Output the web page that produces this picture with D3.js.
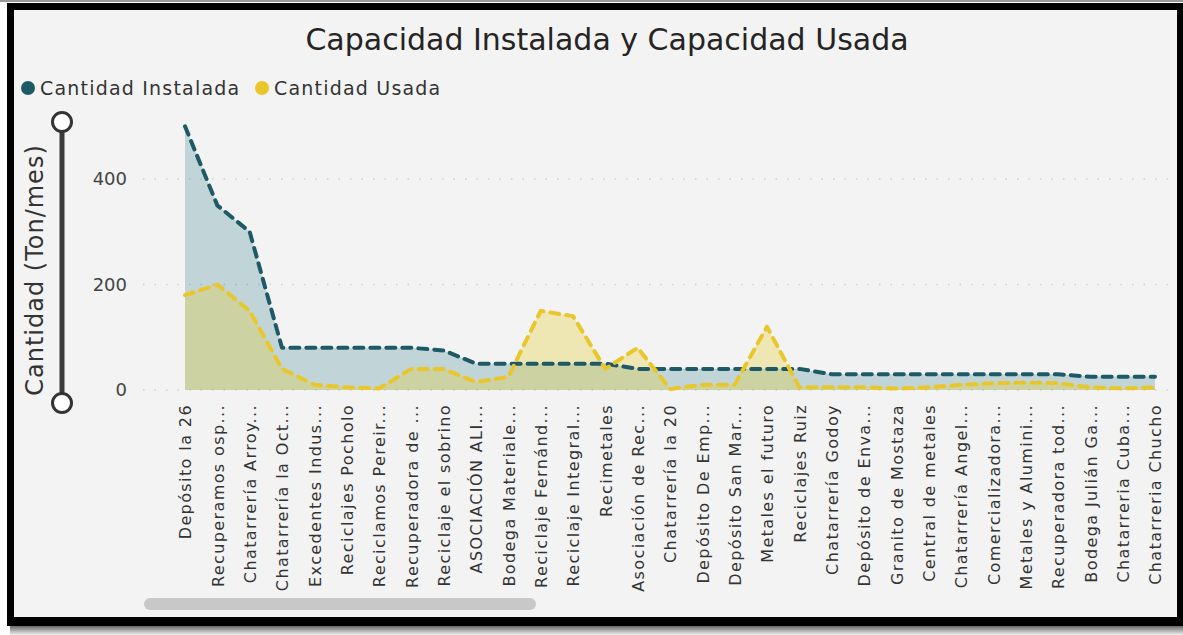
<!DOCTYPE html>
<html>
<head>
<meta charset="utf-8">
<script src="https://cdn.jsdelivr.net/npm/d3@7"></script>
<style>
body{margin:0;background:#fff;}
svg text{font-family:"DejaVu Sans",Verdana,sans-serif;}
</style>
</head>
<body>
<div id="chart"></div>
<script>
// datos
var categorias=["Depósito la 26","Recuperamos osp...","Chatarrería Arroy...","Chatarrería la Oct...",
    "Excedentes Indus...","Reciclajes Pocholo","Reciclamos Pereir...","Recuperadora de ...",
    "Reciclaje el sobrino","ASOCIACIÓN ALI...","Bodega Materiale...","Reciclaje Fernánd...",
    "Reciclaje Integral...","Recimetales","Asociación de Rec...","Chatarrería la 20",
    "Depósito De Emp...","Depósito San Mar...","Metales el futuro","Reciclajes Ruiz",
    "Chatarrería Godoy","Depósito de Enva...","Granito de Mostaza","Central de metales",
    "Chatarrería Angel...","Comercializadora...","Metales y Alumini...","Recuperadora tod...",
    "Bodega Julián Ga...","Chatarreria Cuba...","Chatarreria Chucho"];
var instalada=[500,350,300,80,80,80,80,80,75,50,50,50,50,50,40,40,40,40,40,40,
    30,30,30,30,30,30,30,30,25,25,25];
var usada=[180,200,150,40,10,5,3,40,40,15,25,150,140,40,80,2,10,10,120,5,
    5,5,3,5,10,13,14,13,5,3,5];
var yTicks=[0,200,400];
var series=["Cantidad Instalada","Cantidad Usada"];
var colores=["#1d5966","#e9c72c"];
var relleno=["#2b7a8a","#e6cc38"];

var W=1183,H=635;
var svg=d3.select("#chart").append("svg")
    .attr("width",W)
    .attr("height",H);

// marco negro con sombra
var defs=svg.append("defs");
var grad=defs.append("linearGradient").attr("id","sombra")
    .attr("x1",0).attr("y1",0).attr("x2",0).attr("y2",1);
grad.append("stop").attr("offset","0%").attr("stop-color","#6a6a6a");
grad.append("stop").attr("offset","100%").attr("stop-color","#f0f0f0");

svg.append("rect").attr("x",0).attr("y",0).attr("width",W).attr("height",2).attr("fill","#9a9a9a");
svg.append("rect").attr("x",10).attr("y",626).attr("width",W-10).attr("height",9).attr("fill","url(#sombra)");
svg.append("rect").attr("x",7).attr("y",3).attr("width",W-7).attr("height",623).attr("fill","#000");
svg.append("rect").attr("x",14).attr("y",10).attr("width",1163).attr("height",607).attr("fill","#f3f3f3");

// titulo
svg.append("text")
    .attr("x",607).attr("y",50)
    .attr("text-anchor","middle")
    .attr("font-size",30)
    .attr("fill","#252423")
    .text("Capacidad Instalada y Capacidad Usada");

// leyenda
var leg=svg.append("g");
var legX=[28,262];
series.forEach(function(s,i){
    leg.append("circle").attr("cx",legX[i]).attr("cy",88).attr("r",7).attr("fill",colores[i]);
    leg.append("text").attr("x",legX[i]+12).attr("y",95)
        .attr("font-size",19)
        .attr("letter-spacing",1.2)
        .attr("fill","#333").text(s);
});

// escalas
var x=d3.scalePoint().domain(categorias).range([185,1155]);
var y=d3.scaleLinear().domain([0,500]).range([390,126.25]);

// lineas de cuadricula
svg.append("g").selectAll("line").data(yTicks).enter().append("line")
    .attr("x1",143).attr("x2",1170)
    .attr("y1",function(d){return y(d);})
    .attr("y2",function(d){return y(d);})
    .attr("stroke","#d0d0d0")
    .attr("stroke-width",1.5)
    .attr("stroke-dasharray","1.5,10");

// eje y
var yAxis=svg.append("g")
    .attr("transform","translate(143,0)")
    .call(d3.axisLeft(y).tickValues(yTicks).tickSize(0).tickPadding(16));
yAxis.select(".domain").remove();
yAxis.selectAll("text")
    .attr("font-size",18)
    .attr("fill","#444")
    .style("font-family","'DejaVu Sans',sans-serif");

// eje x
var xAxis=svg.append("g")
    .attr("transform","translate(0,390)")
    .call(d3.axisBottom(x).tickSize(0));
xAxis.select(".domain").remove();
xAxis.selectAll("text")
    .attr("transform","rotate(-90)")
    .attr("x",-14)
    .attr("y",0)
    .attr("dy","0.36em")
    .attr("text-anchor","end")
    .attr("font-size",16)
    .attr("letter-spacing",1.4)
    .attr("fill","#333")
    .style("font-family","'DejaVu Sans',sans-serif");

// titulo eje y
svg.append("text")
    .attr("transform","translate(43,270) rotate(-90)")
    .attr("text-anchor","middle")
    .attr("font-size",24)
    .attr("letter-spacing",1)
    .attr("fill","#333")
    .text("Cantidad (Ton/mes)");

// control deslizante
svg.append("line").attr("x1",62).attr("x2",62).attr("y1",122).attr("y2",403)
    .attr("stroke","#3a3a3a").attr("stroke-width",5);
svg.selectAll(".perilla").data([122,403]).enter().append("circle")
    .attr("class","perilla")
    .attr("cx",62).attr("cy",function(d){return d;})
    .attr("r",9.5)
    .attr("fill","#fff").attr("stroke","#333").attr("stroke-width",3);

// areas y lineas
var datos=[instalada,usada];
var opac=[0.25,0.34];
var area=d3.area()
    .x(function(d,i){return x(categorias[i]);})
    .y0(y(0))
    .y1(function(d){return y(d);});
var linea=d3.line()
    .x(function(d,i){return x(categorias[i]);})
    .y(function(d){return y(d);});

datos.forEach(function(serie,k){
    svg.append("path").datum(serie)
        .attr("d",area)
        .attr("fill",relleno[k])
        .attr("fill-opacity",opac[k]);
});
datos.forEach(function(serie,k){
    svg.append("path").datum(serie)
        .attr("d",linea)
        .attr("fill","none")
        .attr("stroke",colores[k])
        .attr("stroke-width",4)
        .attr("stroke-linecap","round")
        .attr("stroke-linejoin","round")
        .attr("stroke-dasharray","9,7");
});

// barra de desplazamiento
svg.append("rect")
    .attr("x",144).attr("y",598).attr("width",392).attr("height",12)
    .attr("rx",6).attr("fill","#c8c8c8");
</script>
</body>
</html>
